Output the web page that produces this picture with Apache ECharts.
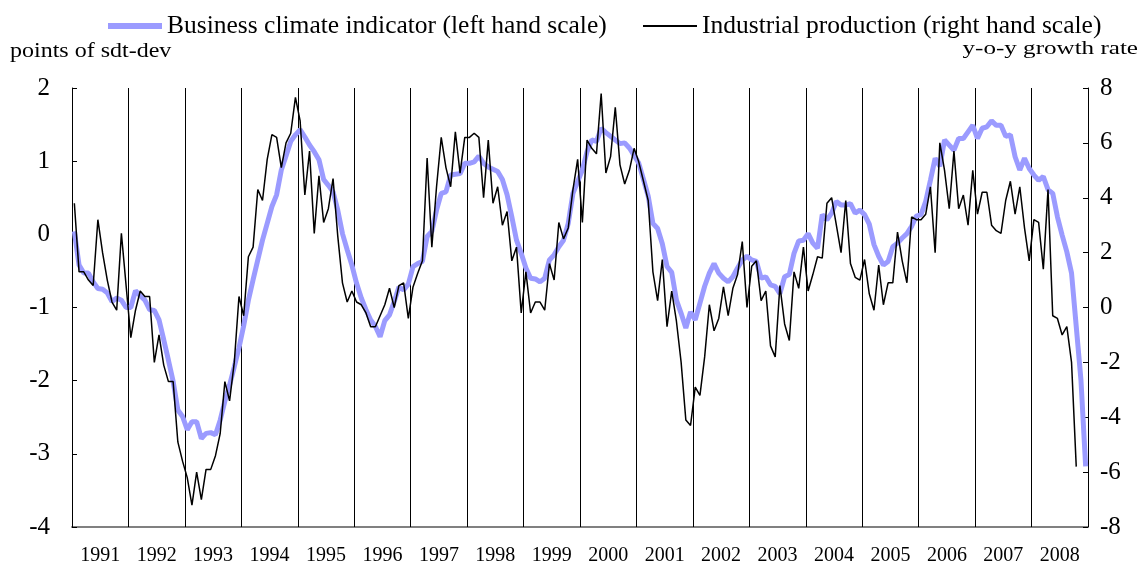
<!DOCTYPE html>
<html>
<head>
<meta charset="utf-8">
<script src="https://cdn.jsdelivr.net/npm/echarts@6/dist/echarts.min.js"></script>
<style>
  html, body { margin: 0; padding: 0; background: #fff; }
  #chart { width: 1139px; height: 568px; }
</style>
</head>
<body>
<div id="chart"></div>
<script>
const years = ['1991', '1992', '1993', '1994', '1995', '1996', '1997', '1998', '1999',
  '2000', '2001', '2002', '2003', '2004', '2005', '2006', '2007', '2008']

// business climate indicator, points of std-dev, monthly (left axis)
const climate = [
  0.04, -0.42, -0.53, -0.53, -0.65, -0.74, -0.75, -0.8, -0.92, -0.87, -0.9, -1.0,
  -1.0, -0.77, -0.84, -0.9, -1.03, -1.04, -1.17, -1.44, -1.72, -2.01, -2.4, -2.49,
  -2.67, -2.56, -2.56, -2.79, -2.72, -2.71, -2.74, -2.54, -2.28, -2.06, -1.81, -1.55,
  -1.25, -0.9, -0.62, -0.35, -0.08, 0.15, 0.38, 0.54, 0.88, 1.07, 1.27, 1.36,
  1.43, 1.33, 1.22, 1.13, 1.02, 0.75, 0.67, 0.58, 0.33, 0.01, -0.21, -0.42,
  -0.67, -0.87, -1.03, -1.17, -1.26, -1.4, -1.18, -1.1, -0.92, -0.72, -0.76, -0.68,
  -0.44, -0.4, -0.37, -0.03, 0.04, 0.33, 0.56, 0.58, 0.81, 0.82, 0.83, 0.97,
  0.97, 0.99, 1.07, 0.97, 0.92, 0.89, 0.86, 0.75, 0.54, 0.24, -0.08, -0.26,
  -0.46, -0.6, -0.61, -0.65, -0.6, -0.35, -0.28, -0.17, -0.08, 0.15, 0.56, 0.72,
  0.88, 1.13, 1.29, 1.27, 1.45, 1.39, 1.34, 1.29, 1.24, 1.25, 1.18, 1.08,
  0.97, 0.75, 0.52, 0.15, 0.08, -0.13, -0.44, -0.52, -0.9, -1.08, -1.28, -1.06,
  -1.17, -0.94, -0.71, -0.53, -0.4, -0.53, -0.6, -0.65, -0.58, -0.46, -0.35, -0.3,
  -0.35, -0.37, -0.6, -0.58, -0.69, -0.71, -0.81, -0.58, -0.55, -0.26, -0.09, -0.08,
  0.01, -0.12, -0.19, 0.27, 0.2, 0.29, 0.45, 0.4, 0.4, 0.42, 0.29, 0.33,
  0.27, 0.14, -0.14, -0.3, -0.42, -0.37, -0.17, -0.12, -0.05, 0.01, 0.11, 0.25,
  0.27, 0.45, 0.74, 1.04, 0.93, 1.29, 1.22, 1.15, 1.31, 1.31, 1.4, 1.49,
  1.31, 1.45, 1.47, 1.55, 1.49, 1.49, 1.34, 1.36, 1.06, 0.88, 1.04, 0.9,
  0.81, 0.74, 0.79, 0.61, 0.56, 0.24, -0.01, -0.24, -0.53, -1.26, -1.99, -3.17
]

// industrial production, y-o-y growth rate in %, monthly (right axis)
const production = [
  3.8, 1.3, 1.3, 1.0, 0.8, 3.2, 2.0, 1.0, 0.2, -0.1, 2.7, 0.8,
  -1.1, -0.1, 0.6, 0.4, 0.4, -2.0, -1.0, -2.1, -2.7, -2.7, -4.9, -5.6,
  -6.2, -7.2, -6.0, -7.0, -5.9, -5.9, -5.4, -4.6, -2.7, -3.4, -2.0, 0.4,
  -0.3, 1.85, 2.2, 4.3, 3.9, 5.4, 6.3, 6.2, 5.1, 6.0, 6.35, 7.66,
  6.8, 4.1, 5.7, 2.7, 4.8, 3.1, 3.6, 4.7, 2.6, 0.9, 0.2, 0.6,
  0.2, 0.1, -0.2, -0.7, -0.7, -0.3, 0.1, 0.7, 0.0, 0.8, 0.9, -0.4,
  0.75, 1.25, 1.7, 5.45, 2.2, 4.4, 6.2, 5.1, 4.4, 6.4, 4.9, 6.2,
  6.2, 6.35, 6.2, 4.0, 6.1, 3.8, 4.4, 3.0, 3.5, 1.7, 2.2, -0.2,
  1.3, -0.2, 0.2, 0.2, -0.1, 1.6, 1.0, 3.1, 2.5, 2.9, 4.3, 5.4,
  3.1, 6.1, 5.8, 5.6, 7.8, 4.9, 5.5, 7.3, 5.2, 4.5, 5.0, 5.8,
  5.3, 4.6, 3.9, 1.3, 0.25, 1.75, -0.7, 0.6, -0.5, -2.0, -4.1, -4.3,
  -2.9, -3.2, -1.8, 0.1, -0.85, -0.4, 0.75, -0.3, 0.7, 1.2, 2.4, 0.0,
  1.5, 1.7, 0.25, 0.6, -1.4, -1.8, 0.8, -0.6, -1.2, 1.3, 0.7, 2.2,
  0.6, 1.2, 1.85, 1.8, 3.8, 4.0, 3.0, 2.0, 3.9, 1.6, 1.1, 1.0,
  1.75, 0.5, -0.1, 1.55, 0.1, 0.9, 0.9, 2.75, 1.7, 0.9, 3.3, 3.2,
  3.2, 3.4, 4.4, 2.0, 6.0, 5.0, 3.6, 5.7, 3.6, 4.1, 3.0, 5.0,
  3.4, 4.2, 4.2, 3.0, 2.8, 2.7, 3.9, 4.6, 3.4, 4.4, 2.9, 1.7,
  3.2, 3.1, 1.4, 4.3, -0.3, -0.4, -1.0, -0.7, -2.0, -5.8, null, null
]

const leftTicks = { min: -4, max: 2, interval: 1 }
const rightTicks = { min: -8, max: 8, interval: 2 }

const climateName = 'Business climate indicator (left hand scale)'
const productionName = 'Industrial production (right hand scale)'

const months = []
years.forEach(y => {
  for (let m = 1; m <= 12; m++) months.push(y + '-' + (m < 10 ? '0' + m : m))
})

const serif = '"Liberation Serif", "DejaVu Serif", serif'
const blue = '#9b9bff'
const yearStart = idx => idx % 12 === 0

const legendText = { fontFamily: serif, fontSize: 25.5, color: '#000' }

const chart = echarts.init(document.getElementById('chart'))
chart.setOption({
  animation: false,
  backgroundColor: '#fff',
  textStyle: { fontFamily: serif, color: '#000' },
  grid: { left: 72, right: 51, top: 88, bottom: 41 },
  legend: [
    {
      left: 103, top: 8, itemWidth: 54, itemHeight: 6, icon: 'rect', itemGap: 0,
      textStyle: legendText,
      data: [{ name: climateName, itemStyle: { color: blue } }]
    },
    {
      left: 638, top: 8, itemWidth: 54, itemHeight: 2, icon: 'rect', itemGap: 0,
      textStyle: legendText,
      data: [{ name: productionName, itemStyle: { color: '#000' } }]
    }
  ],
  graphic: [
    {
      type: 'text', x: 10, y: 62, scaleX: 1.2,
      style: { text: 'points of sdt-dev', font: '20px ' + serif, fill: '#000', textAlign: 'left', textVerticalAlign: 'bottom' }
    },
    {
      type: 'text', x: 1138, y: 59, scaleX: 1.32,
      style: { text: 'y-o-y growth rate', font: '19px ' + serif, fill: '#000', textAlign: 'right', textVerticalAlign: 'bottom' }
    }
  ],
  xAxis: [
    {
      type: 'category',
      data: months,
      boundaryGap: true,
      axisLine: { onZero: false, lineStyle: { color: '#808080', width: 2 } },
      axisTick: { show: true, inside: true, length: 5, interval: yearStart, lineStyle: { color: '#000' } },
      axisLabel: { show: false },
      splitLine: { show: true, interval: yearStart, lineStyle: { color: '#000', width: 1 } }
    },
    {
      type: 'category',
      data: years,
      position: 'bottom',
      boundaryGap: true,
      axisLine: { show: false, onZero: false },
      axisTick: { show: false },
      axisLabel: { fontFamily: serif, fontSize: 20, color: '#000', margin: 19, interval: 0 }
    }
  ],
  yAxis: [
    {
      type: 'value',
      ...leftTicks,
      position: 'left',
      axisLine: { show: true, lineStyle: { color: '#000' } },
      axisTick: { show: true, inside: true, length: 5, lineStyle: { color: '#000' } },
      axisLabel: { fontFamily: serif, fontSize: 25, color: '#000', margin: 22 },
      splitLine: { show: false }
    },
    {
      type: 'value',
      ...rightTicks,
      position: 'right',
      axisLine: { show: true, lineStyle: { color: '#000' } },
      axisTick: { show: true, inside: true, length: 5, lineStyle: { color: '#000' } },
      axisLabel: { fontFamily: serif, fontSize: 25, color: '#000', margin: 12 },
      splitLine: { show: false }
    }
  ],
  series: [
    {
      name: climateName,
      type: 'line',
      xAxisIndex: 0,
      yAxisIndex: 0,
      data: climate,
      symbol: 'none',
      color: blue,
      lineStyle: { color: blue, width: 5 },
      z: 2
    },
    {
      name: productionName,
      type: 'line',
      xAxisIndex: 0,
      yAxisIndex: 1,
      data: production,
      symbol: 'none',
      color: '#000',
      lineStyle: { color: '#000', width: 1.5 },
      z: 3
    }
  ]
})
</script>
</body>
</html>
